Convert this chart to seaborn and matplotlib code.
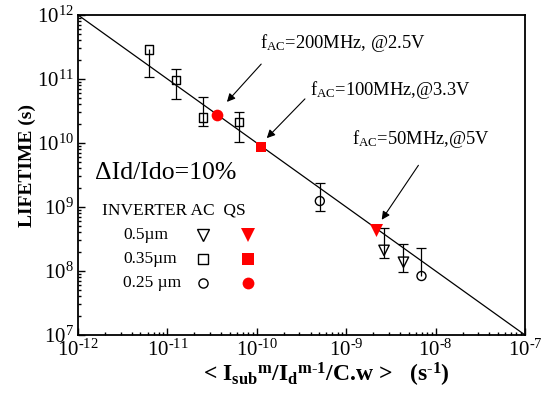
import matplotlib
matplotlib.use("Agg")
import numpy as np
import pandas as pd
import seaborn as sns
import matplotlib.pyplot as plt
from matplotlib.ticker import FuncFormatter

# valores (escala log)
fit_x = [1e-12, 1e-7]
fit_y = [1e12, 1e7]

sq_x = [6.25e-12, 1.24e-11, 2.5e-11, 6.3e-11]
sq_y = [2.9e11, 9.6e10, 2.5e10, 2.15e10]
sq_top = [2.9e11, 1.42e11, 5.3e10, 3.0e10]
sq_bot = [1.09e11, 4.87e10, 1.86e10, 1.02e10]

ci_x = [5.07e-10, 6.95e-9]
ci_y = [1.24e9, 8.35e7]
ci_top = [2.4e9, 2.26e8]
ci_bot = [8.7e8, 8.35e7]

tr_x = [2.65e-9, 4.37e-9]
tr_y = [2.1e8, 1.37e8]
tr_top = [4.65e8, 2.67e8]
tr_bot = [1.58e8, 9.75e7]

qs_x = [3.59e-11, 1.12e-10, 2.17e-9]
qs_y = [2.7e10, 8.8e9, 4.4e8]
qs_marker = ["o", "s", "v"]

legend_rows = ["0.5\u00b5m", "0.35\u00b5m", "0.25 \u00b5m"]
legend_markers = ["v", "s", "o"]

notes = [r"f$_{\rm AC}$=200MHz, @2.5V", r"f$_{\rm AC}$=100MHz,@3.3V", r"f$_{\rm AC}$=50MHz,@5V"]

sns.set_style("ticks")
plt.rcParams["font.family"] = ["Liberation Serif", "DejaVu Serif"]
plt.rcParams["mathtext.fontset"] = "custom"
plt.rcParams["mathtext.rm"] = "Liberation Serif"
plt.rcParams["mathtext.it"] = "Liberation Serif:italic"
plt.rcParams["mathtext.bf"] = "Liberation Serif:bold"
for k in ["text.color", "axes.labelcolor", "axes.edgecolor", "xtick.color", "ytick.color"]:
    plt.rcParams[k] = "black"

fig = plt.figure(figsize=(5.47, 4.05), dpi=100)
ax = fig.add_axes([0.1426, 0.1728, 0.8172, 0.7902])

sns.lineplot(x=fit_x, y=fit_y, ax=ax, color="black", lw=0.9)


def draw_err(x, y, top, bot):
    ax.vlines(x, bot, top, color="black", lw=0.9, zorder=2)
    cx = [a for a, t, b in zip(x, top, y) if t > b] + [a for a, lo, b in zip(x, bot, y) if lo < b]
    cy = [t for t, b in zip(top, y) if t > b] + [lo for lo, b in zip(bot, y) if lo < b]
    ax.scatter(cx, cy, marker="_", s=42, color="black", lw=0.9, zorder=2)


draw_err(sq_x, sq_y, sq_top, sq_bot)
draw_err(ci_x, ci_y, ci_top, ci_bot)
draw_err(tr_x, tr_y, tr_top, tr_bot)

sns.scatterplot(x=sq_x, y=sq_y, ax=ax, marker="s", s=36, fc="none", ec="black", lw=1, zorder=3)
sns.scatterplot(x=ci_x, y=ci_y, ax=ax, marker="o", s=42, fc="none", ec="black", lw=1, zorder=3)
sns.scatterplot(x=tr_x, y=tr_y, ax=ax, marker="v", s=56, fc="none", ec="black", lw=1, zorder=3)
qs_size = {"o": 71, "s": 59, "v": 88}
for x, y, m in zip(qs_x, qs_y, qs_marker):
    sns.scatterplot(x=[x], y=[y], ax=ax, marker=m, s=qs_size[m], color="red", ec="red", lw=0, zorder=4)

ax.set_xscale("log")
ax.set_yscale("log")
ax.set_xlim(1e-12, 1e-7)
ax.set_ylim(1e7, 1e12)


def pow_fmt(v, pos):
    n = int(round(np.log10(v)))
    if n < 0:
        return r"$10^{\text{-}%d}$" % (-n)
    return r"$10^{%d}$" % n


ax.xaxis.set_major_formatter(FuncFormatter(pow_fmt))
ax.yaxis.set_major_formatter(FuncFormatter(pow_fmt))

ax.tick_params(which="both", direction="in", top=False, right=False, width=1)
ax.tick_params(which="major", length=5, labelsize=15, pad=3)
ax.tick_params(which="minor", length=2.5)
for s in ax.spines.values():
    s.set_linewidth(1.3)

# anotações com setas
note_pos = [(0.407, 0.9125), (0.519, 0.766), (0.613, 0.6125)]
arrows = [((0.414, 0.853), (0.329, 0.722)),
          ((0.512, 0.744), (0.418, 0.609)),
          ((0.765, 0.5375), (0.676, 0.353))]
for txt, (tx, ty) in zip(notes, note_pos):
    ax.text(tx, ty, txt, transform=ax.transAxes, fontsize=13.3, va="center", ha="left")
for tail, head in arrows:
    ax.annotate("", xy=head, xytext=tail, xycoords="axes fraction", textcoords="axes fraction",
                arrowprops=dict(arrowstyle="-|>", color="black", lw=0.8, mutation_scale=12))

ax.text(0.038, 0.506, "\u0394Id/Ido=10%", transform=ax.transAxes, fontsize=18.5, va="center")

# legenda manual
ax.text(0.054, 0.39, "INVERTER AC  QS", transform=ax.transAxes, fontsize=12.5, va="center")
row_y = [0.3125, 0.2375, 0.1625]
open_size = {"v": 8, "s": 6.6, "o": 6.6}
fill_size = {"v": 9.5, "s": 8, "o": 8.5}
for lab, m, yy in zip(legend_rows, legend_markers, row_y):
    ax.text(0.1007, yy, lab, transform=ax.transAxes, fontsize=12.5, va="center")
    ax.plot(0.28, yy, marker=m, ms=open_size[m], mfc="none", mec="black", mew=1,
            transform=ax.transAxes, ls="none")
    ax.plot(0.38, yy, marker=m, ms=fill_size[m], mfc="red", mec="red", mew=0,
            transform=ax.transAxes, ls="none")

ax.set_ylabel("LIFETIME (s)", fontsize=14, fontweight="bold")
ax.yaxis.set_label_coords(-0.095, 0.53)
ax.set_xlabel("")
fig.text(0.597, 0.074,
         r"< I$_{\mathbf{sub}}$${}^{\mathbf{m}}$/I$_{\mathbf{d}}$${}^{\mathbf{m\text{-}1}}$/C.w >   (s$^{\mathbf{\text{-}1}}$)",
         fontsize=17, fontweight="bold", ha="center", va="center")

fig.savefig("out.png", dpi=100)
